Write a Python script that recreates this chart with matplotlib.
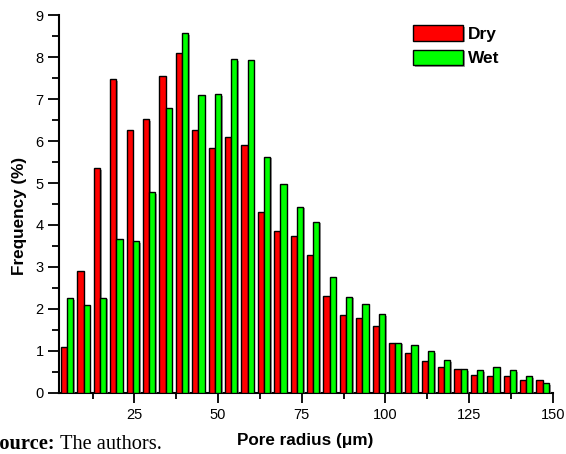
import matplotlib
matplotlib.use("Agg")
import matplotlib.pyplot as plt
import matplotlib.patheffects as pe
from matplotlib.ticker import MultipleLocator
import numpy as np

radius = [4.9, 9.8, 14.7, 19.6, 24.5, 29.4, 34.3, 39.2, 44.1, 49.0,
          53.9, 58.8, 63.7, 68.6, 73.5, 78.4, 83.3, 88.2, 93.1, 98.0,
          102.9, 107.8, 112.7, 117.6, 122.5, 127.4, 132.3, 137.2, 142.1, 147.0]
dry = [1.08, 2.90, 5.35, 7.47, 6.27, 6.53, 7.56, 8.11, 6.27, 5.83,
       6.09, 5.91, 4.31, 3.86, 3.73, 3.28, 2.31, 1.85, 1.78, 1.59,
       1.18, 0.95, 0.76, 0.61, 0.56, 0.42, 0.40, 0.40, 0.31, 0.30]
wet = [2.25, 2.09, 2.27, 3.67, 3.62, 4.79, 6.78, 8.58, 7.11, 7.12,
       7.95, 7.93, 5.63, 4.97, 4.44, 4.08, 2.77, 2.29, 2.12, 1.87,
       1.19, 1.13, 0.99, 0.77, 0.56, 0.53, 0.61, 0.53, 0.39, 0.23]
series_names = ["Dry", "Wet"]
xticks = [25, 50, 75, 100, 125, 150]
yticks = list(range(0, 10))

plt.rcParams['font.family'] = ['Liberation Sans', 'DejaVu Sans']

W, H = 566, 454
fig = plt.figure(figsize=(W / 100, H / 100), dpi=100)
ax = fig.add_axes([59 / W, 1 - 392.7 / H, (552.7 - 59) / W, (392.7 - 15.3) / H])

x = np.array(radius)
bw = 1.85
shadow = [pe.SimplePatchShadow(offset=(1.2, -1.2), shadow_rgbFace='0.45', alpha=0.7), pe.Normal()]
b1 = ax.bar(x - bw / 2, dry, width=bw, color='#FF0000', edgecolor='black', linewidth=1.0,
            label=series_names[0], zorder=3)
b2 = ax.bar(x + bw / 2, wet, width=bw, color='#00FF00', edgecolor='black', linewidth=1.0,
            label=series_names[1], zorder=3)
for b in list(b1) + list(b2):
    b.set_path_effects(shadow)

ax.set_xlim(2.45, 150)
ax.set_ylim(0, 9)
ax.set_xticks(xticks)
ax.set_yticks(yticks)
ax.xaxis.set_minor_locator(MultipleLocator(12.5))
ax.yaxis.set_minor_locator(MultipleLocator(0.5))
for s in ['top', 'right']:
    ax.spines[s].set_visible(False)
for s in ['left', 'bottom']:
    ax.spines[s].set_linewidth(1.5)
ax.tick_params(axis='y', which='major', length=8, width=1.3, labelsize=10.5, pad=3)
ax.tick_params(axis='y', which='minor', length=5, width=1.3)
ax.tick_params(axis='x', which='major', length=7, width=1.3, labelsize=10.5, pad=4)
ax.tick_params(axis='x', which='minor', length=4.5, width=1.3)

fig.text(305 / W, 1 - 440 / H, 'Pore radius (\u03bcm)', ha='center', va='center',
         fontsize=12.3, fontweight='bold')
fig.text(20 / W, 1 - 216 / H, 'Frequency (%)', ha='center', va='center', rotation=90,
         fontsize=12.3, fontweight='bold')

leg = ax.legend(loc='upper left', bbox_to_anchor=(413 / W, 1 - 25 / H),
                bbox_transform=fig.transFigure, frameon=False,
                borderpad=0, borderaxespad=0,
                handlelength=2.88, handleheight=1.0, handletextpad=0.3,
                labelspacing=0.45, prop={'weight': 'bold', 'size': 12.5})

t1 = fig.text(-11.4 / W, 1 - 449 / H, 'Source:', ha='left', va='baseline', fontsize=14.7,
              family='Liberation Serif', fontweight='bold')
fig.canvas.draw()
bb = t1.get_window_extent(renderer=fig.canvas.get_renderer())
space_px = 0.25 * 14.7 * 100 / 72
fig.text((bb.x1 + space_px) / W, 1 - 449 / H, 'The authors.', ha='left', va='baseline',
         fontsize=14.7, family='Liberation Serif')

fig.savefig('out.png', dpi=100)
